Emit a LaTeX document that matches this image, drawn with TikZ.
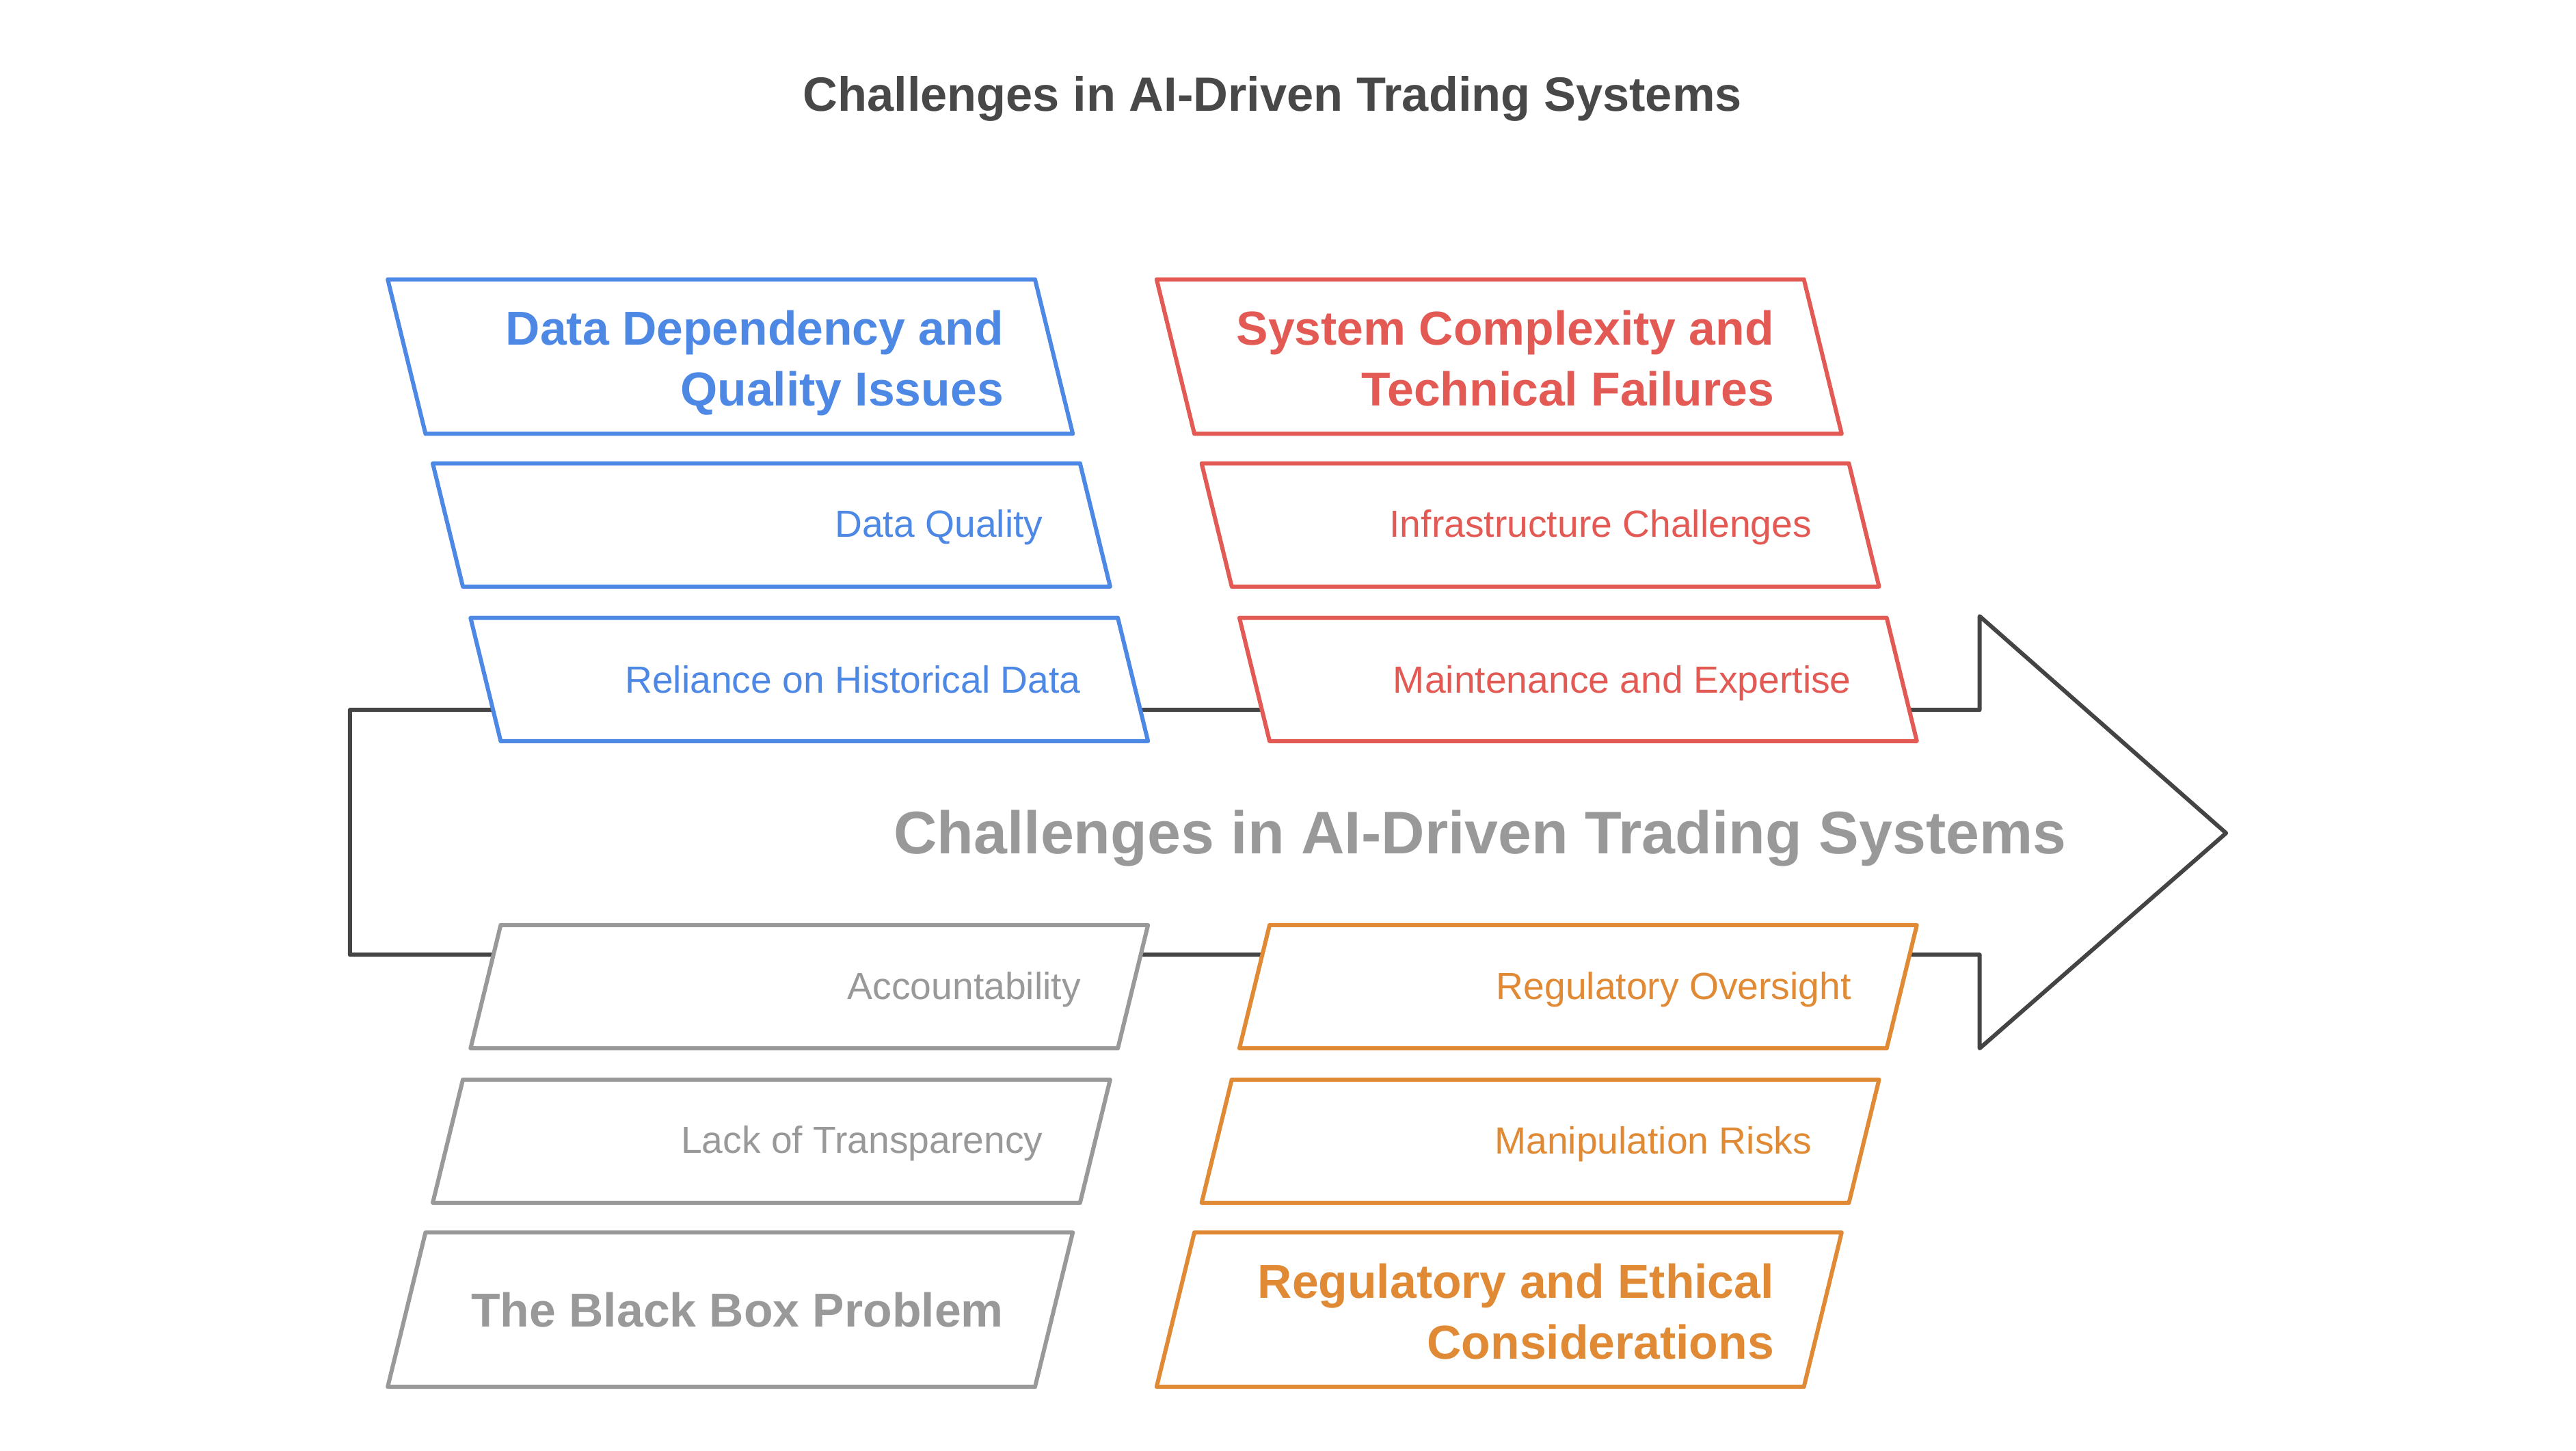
\documentclass[tikz,border=0pt]{standalone}
\usepackage{fontspec}
\setmainfont{Liberation Sans}

\definecolor{cblue}{HTML}{4E88E5}
\definecolor{cred}{HTML}{E35A55}
\definecolor{cgrey}{HTML}{999999}
\definecolor{corange}{HTML}{E08A35}
\definecolor{cdark}{HTML}{444444}
\definecolor{ctitle}{HTML}{484848}

\begin{document}
\begin{tikzpicture}[x=1pt,y=-1pt,
    frame/.style={line width=2.5pt, line join=round, fill=white},
    arrowline/.style={line width=2.5pt, line join=round, draw=cdark},
    headtext/.style={anchor=east, align=right, inner sep=0pt, text depth=0.21em, font=\bfseries\fontsize{29}{37}\selectfont},
    itemtext/.style={anchor=east, inner sep=0pt, text depth=0.21em, font=\fontsize{23}{28}\selectfont},
]
            \useasboundingbox (0,0) rectangle (1568,883);

            \def \boxw{394};
            \def \slope{0.2447};

            \node[inner sep=0pt, font=\bfseries\fontsize{29.3}{35}\selectfont, text=ctitle] (title) at (774.5,60) {Challenges in AI-Driven Trading Systems};

            % big arrow
            \draw[arrowline] (213,432) -- (1205,432) -- (1205,375) -- (1355,507) -- (1205,638) -- (1205,581) -- (213,581) -- cycle;
            \node[anchor=east, inner sep=0pt, font=\bfseries\fontsize{36.6}{44}\selectfont, text=cgrey] (main) at (1258,510) {Challenges in AI-Driven Trading Systems};

            % upper boxes
            \foreach \xa/\col in {236/cblue, 704/cred} {
                \foreach \ya/\yb in {170/264, 282/357, 376/451} {
                    \draw[frame, draw=\col] ({\xa+\slope*(\ya-170)},\ya) -- ++(\boxw,0) -- ({\xa+\slope*(\yb-170)+\boxw},\yb) -- ++(-\boxw,0) -- cycle;
                }
            }

            % lower boxes
            \foreach \xa/\col in {236/cgrey, 704/corange} {
                \foreach \ya/\yb in {750/844, 657/732, 563/638} {
                    \draw[frame, draw=\col] ({\xa+\slope*(844-\ya)},\ya) -- ++(\boxw,0) -- ({\xa+\slope*(844-\yb)+\boxw},\yb) -- ++(-\boxw,0) -- cycle;
                }
            }

            % data
            \node[headtext, text=cblue] (data) at (611,219) {Data Dependency and\\Quality Issues};
            \node[itemtext, text=cblue] (quality) at (635,319.5) {Data Quality};
            \node[itemtext, text=cblue] (history) at (658,414.5) {Reliance on Historical Data};

            % system
            \node[headtext, text=cred] (system) at (1080,219) {System Complexity and\\Technical Failures};
            \node[itemtext, text=cred] (infra) at (1103,319.5) {Infrastructure Challenges};
            \node[itemtext, text=cred] (maint) at (1127,414.5) {Maintenance and Expertise};

            % black box
            \node[headtext, text=cgrey] (blackbox) at (611,798) {The Black Box Problem};
            \node[itemtext, text=cgrey] (transp) at (635,694.5) {Lack of Transparency};
            \node[itemtext, text=cgrey] (account) at (658,601) {Accountability};

            % regulation
            \node[headtext, text=corange] (regul) at (1080,799) {Regulatory and Ethical\\Considerations};
            \node[itemtext, text=corange] (manip) at (1103,695) {Manipulation Risks};
            \node[itemtext, text=corange] (oversight) at (1127,601) {Regulatory Oversight};

\end{tikzpicture}
\end{document}
